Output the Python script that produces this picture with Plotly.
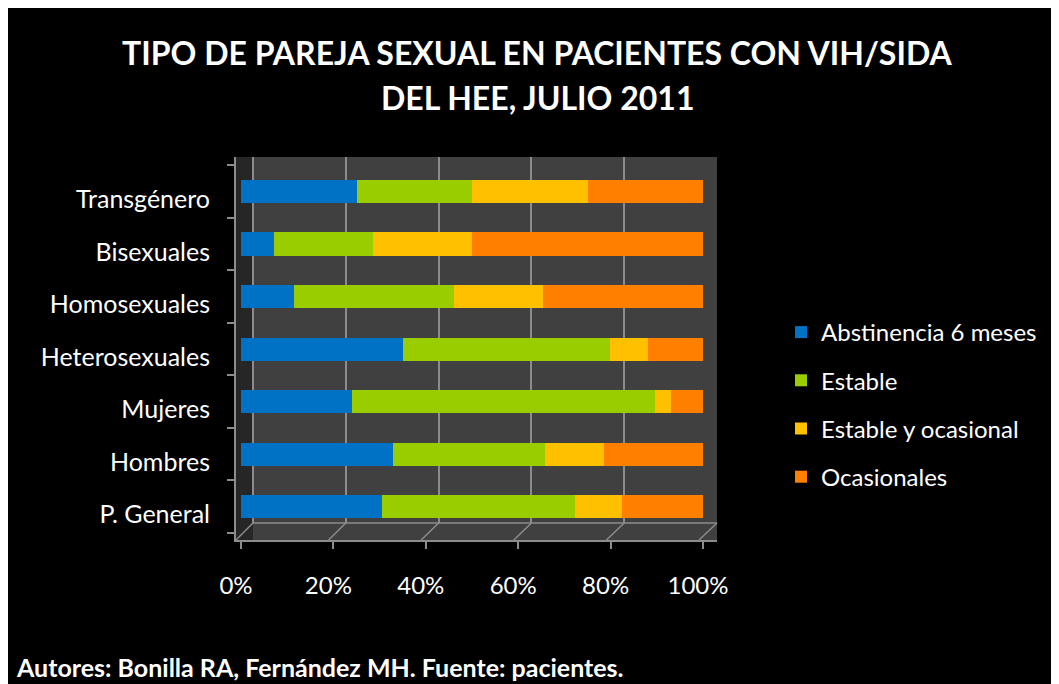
import plotly.graph_objects as go

# categories listed bottom -> top, as they appear on the chart
categories = ["P. General", "Hombres", "Mujeres", "Heterosexuales",
              "Homosexuales", "Bisexuales", "Transgénero"]

abstinencia = [30.6, 33.0, 24.1, 35.1, 11.5, 7.1, 25.0]
estable = [41.7, 32.9, 65.5, 44.8, 34.6, 21.4, 25.0]
estable_ocasional = [10.2, 12.7, 3.4, 8.1, 19.2, 21.4, 25.0]
ocasionales = [17.5, 21.4, 7.0, 12.0, 34.7, 50.1, 25.0]

series_names = ["Abstinencia 6 meses", "Estable", "Estable y ocasional", "Ocasionales"]
colors = ["#0072C6", "#9ACD00", "#FFC000", "#FF8000"]

x_ticks = [0, 20, 40, 60, 80, 100]
x_tick_labels = ["0%", "20%", "40%", "60%", "80%", "100%"]

# the page adds an 8px body margin, so the figure is a bit smaller than the window
OFF = 8
W, H = 1059 - OFF, 684 - OFF
PLOT_L, PLOT_R, PLOT_T, PLOT_B = 236, 717, 157, 540   # page pixels
ML, MT = PLOT_L - OFF, PLOT_T - OFF
MR = W - (PLOT_R - OFF)
MB = H - (PLOT_B - OFF)
PW, PH = PLOT_R - PLOT_L, PLOT_B - PLOT_T

FONT = "Lato"
GRID = "#8c8c8c"
WALL = "#404040"

# pseudo-3D box: back wall, side wall and floor (page pixels)
BACK_L, FLOOR_BACK = 253, 523
FRONT_L, FRONT_R = 236, 699
BAR_L, BAR_R = 241, 703


def px_x(p):
    # page pixel -> paper coordinate
    return (p - PLOT_L) / PW


def px_y(p):
    return (PLOT_B - p) / PH


def axis_range(p0, p100):
    # x range so that 0 and 100 land on the given page pixels
    k = (p100 - p0) / 100
    return [-(p0 - PLOT_L) / k, (PLOT_R - p0) / k]


fig = go.Figure()

# back-wall subplot: only carries the gridlines
fig.add_trace(go.Scatter(x=[], y=[], xaxis="x", yaxis="y", showlegend=False, hoverinfo="skip"))

for i, (name, vals) in enumerate(zip(series_names,
                                     [abstinencia, estable, estable_ocasional, ocasionales])):
    fig.add_trace(go.Bar(
        y=categories, x=vals, name=name, orientation="h",
        xaxis="x2", yaxis="y2",
        marker=dict(color=colors[i], line=dict(width=0)),
        legendgroup=name,
    ))

shapes = [
    dict(type="rect", xref="paper", yref="paper", x0=0, x1=1, y0=0, y1=1,
         fillcolor=WALL, line=dict(width=0), layer="below"),
    dict(type="rect", xref="paper", yref="paper", x0=0, x1=px_x(BACK_L), y0=0, y1=1,
         fillcolor="#262626", line=dict(width=0), layer="below"),
    dict(type="line", xref="paper", yref="paper", x0=px_x(BACK_L), x1=1,
         y0=px_y(FLOOR_BACK), y1=px_y(FLOOR_BACK), line=dict(color=GRID, width=1.5),
         layer="below"),
]
# slanted floor lines joining back gridlines to front ticks
for t in x_ticks:
    xb = BACK_L + (PLOT_R - BACK_L) * t / 100
    xf = FRONT_L + (FRONT_R - FRONT_L) * t / 100
    shapes.append(dict(type="line", xref="paper", yref="paper",
                       x0=px_x(xb), y0=px_y(FLOOR_BACK), x1=px_x(xf), y1=0,
                       line=dict(color=GRID, width=1.5), layer="below"))

fig.update_layout(
    width=W, height=H,
    margin=dict(l=ML, r=MR, t=MT, b=MB),
    barmode="stack", bargap=0.56,
    paper_bgcolor="black", plot_bgcolor="rgba(0,0,0,0)",
    font=dict(family=FONT, color="white", size=24),
    showlegend=True,
    legend=dict(x=px_x(781), y=px_y(310), xanchor="left", yanchor="top",
                font=dict(size=24, color="white"), traceorder="grouped",
                tracegroupgap=14, bgcolor="rgba(0,0,0,0)"),
    xaxis=dict(domain=[0, 1], anchor="y", range=axis_range(BACK_L, PLOT_R),
               tickmode="array", tickvals=x_ticks, showticklabels=False, ticks="",
               showgrid=True, gridcolor=GRID, gridwidth=2, zeroline=False, showline=False),
    yaxis=dict(domain=[px_y(FLOOR_BACK), 1], anchor="x", range=[0, 1],
               showgrid=False, zeroline=False, showline=False,
               showticklabels=False, ticks=""),
    xaxis2=dict(domain=[0, 1], anchor="y2", range=axis_range(BAR_L, BAR_R),
                tickmode="array", tickvals=x_ticks, ticktext=x_tick_labels, showgrid=False,
                zeroline=False, showline=True, linecolor=GRID, linewidth=2,
                ticks="outside", ticklen=7, tickcolor=GRID, tickwidth=2,
                ticklabelstandoff=16, ticklabelshift=-5,
                tickfont=dict(size=24, color="white")),
    yaxis2=dict(domain=[0, 1], anchor="x2", range=[-0.634, 6.657], showgrid=False,
                zeroline=False, showline=True, linecolor=GRID, linewidth=2,
                ticks="outside", ticklen=7, tickcolor=GRID, tickwidth=2,
                tickson="boundaries", ticklabelstandoff=19, ticklabelshift=8,
                tickfont=dict(size=25, color="white")),
    shapes=shapes,
    annotations=[
        dict(text="<b>TIPO DE PAREJA SEXUAL EN PACIENTES CON VIH/SIDA</b>",
             xref="paper", yref="paper", x=px_x(537), y=px_y(53),
             xanchor="center", yanchor="middle", showarrow=False,
             font=dict(size=32, color="white", family=FONT)),
        dict(text="<b>DEL HEE, JULIO 2011</b>",
             xref="paper", yref="paper", x=px_x(537), y=px_y(97),
             xanchor="center", yanchor="middle", showarrow=False,
             font=dict(size=32, color="white", family=FONT)),
        dict(text="<b>Autores: Bonilla RA, Fernández MH. Fuente: pacientes.</b>",
             xref="paper", yref="paper", x=px_x(14), y=px_y(667),
             xanchor="left", yanchor="middle", showarrow=False,
             font=dict(size=25, color="white", family=FONT)),
    ],
)

fig.write_html("out.html")
